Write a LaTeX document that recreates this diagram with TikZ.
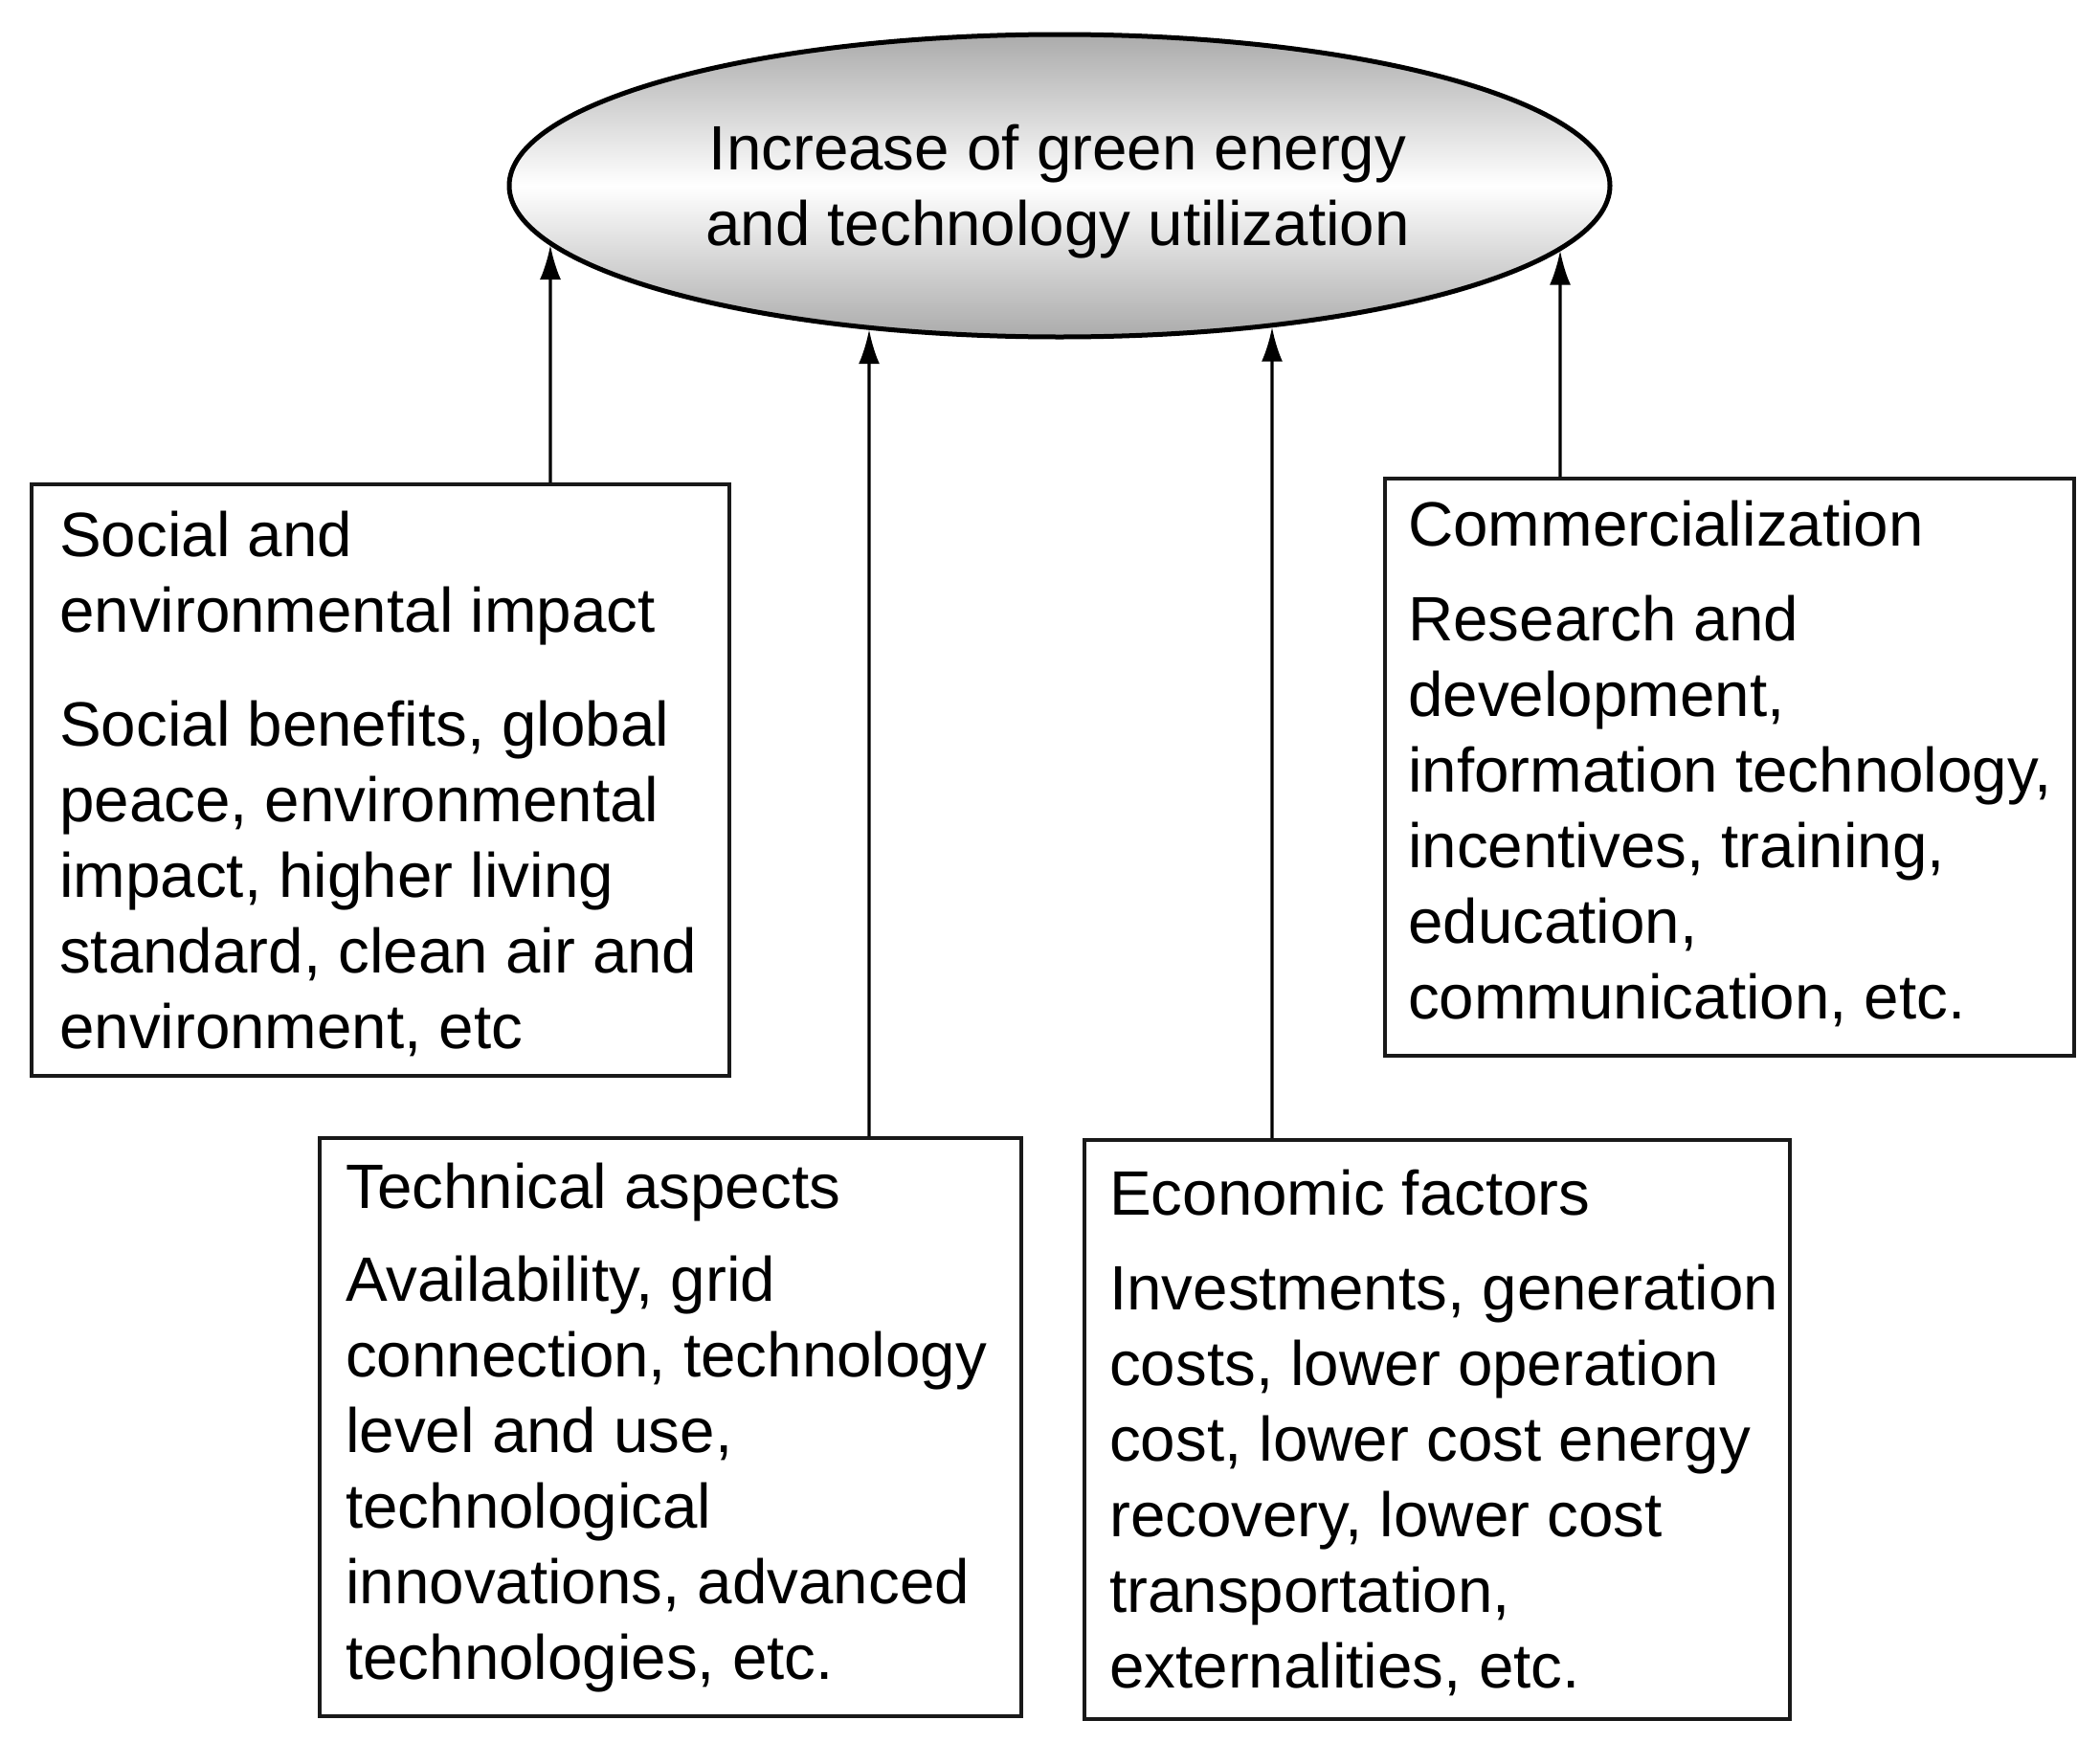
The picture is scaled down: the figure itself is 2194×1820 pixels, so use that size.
\documentclass[tikz,border=0pt]{standalone}
\usepackage{fontspec}
\setmainfont{Liberation Sans}
\usetikzlibrary{shapes.geometric,arrows.meta,intersections}
\begin{document}
\begin{tikzpicture}[x=1pt,y=-1pt,
  boxstyle/.style={draw=black!90, line width=4pt, anchor=north west, inner sep=0pt},
  txtstyle/.style={anchor=north west, inner sep=0pt, align=left, font=\fontsize{65.5}{79}\selectfont},
  arr/.style={line width=3.3pt, -{Latex[length=36pt,width=22pt]}},
]
\fill[white] (0,0) rectangle (2194,1820);
\useasboundingbox (0,0) rectangle (2194,1820);

% goal ellipse
\node[ellipse, draw=black, line width=5pt, minimum width=1150pt, minimum height=316pt,
      inner sep=0pt, top color=black!33, bottom color=black!33, middle color=white] (ell) at (1107,194) {};
\node[anchor=north, inner sep=0pt, align=center, font=\fontsize{65.5}{79}\selectfont] (elltxt) at (1105,130)
  {Increase of green energy\\and technology utilization};
\path[name path=ellp] (1107,194) ellipse [x radius=577pt, y radius=160pt];

% boxes
\node[boxstyle, minimum width=729pt, minimum height=618pt] (soc) at (31,504) {};
\node[txtstyle] (soct) at (62,534) {Social and\\environmental impact\\[40pt]Social benefits, global\\peace, environmental\\impact, higher living\\standard, clean air and\\environment, etc};

\node[boxstyle, minimum width=733pt, minimum height=604pt] (tec) at (332,1187) {};
\node[txtstyle] (tect) at (361,1215) {Technical aspects\\[18pt]Availability, grid\\connection, technology\\level and use,\\technological\\innovations, advanced\\technologies, etc.};

\node[boxstyle, minimum width=737pt, minimum height=605pt] (eco) at (1131,1189) {};
\node[txtstyle] (ecot) at (1159,1222) {Economic factors\\[20pt]Investments, generation\\costs, lower operation\\cost, lower cost energy\\recovery, lower cost\\transportation,\\externalities, etc.};

\node[boxstyle, minimum width=720pt, minimum height=603pt] (com) at (1445,498) {};
\node[txtstyle] (comt) at (1471,523) {Commercialization\\[20pt]Research and\\development,\\information technology,\\incentives, training,\\education,\\communication, etc.};

% connectors
\foreach \xx/\bx in {575/soc, 908/tec, 1329/eco, 1630/com}{
  \path[name path=vl] (\xx,0 |- \bx.north) -- (\xx,0);
  \draw[arr, name intersections={of=vl and ellp, sort by=vl}] (\xx,0 |- \bx.north) -- (intersection-1);
}
\end{tikzpicture}
\end{document}
